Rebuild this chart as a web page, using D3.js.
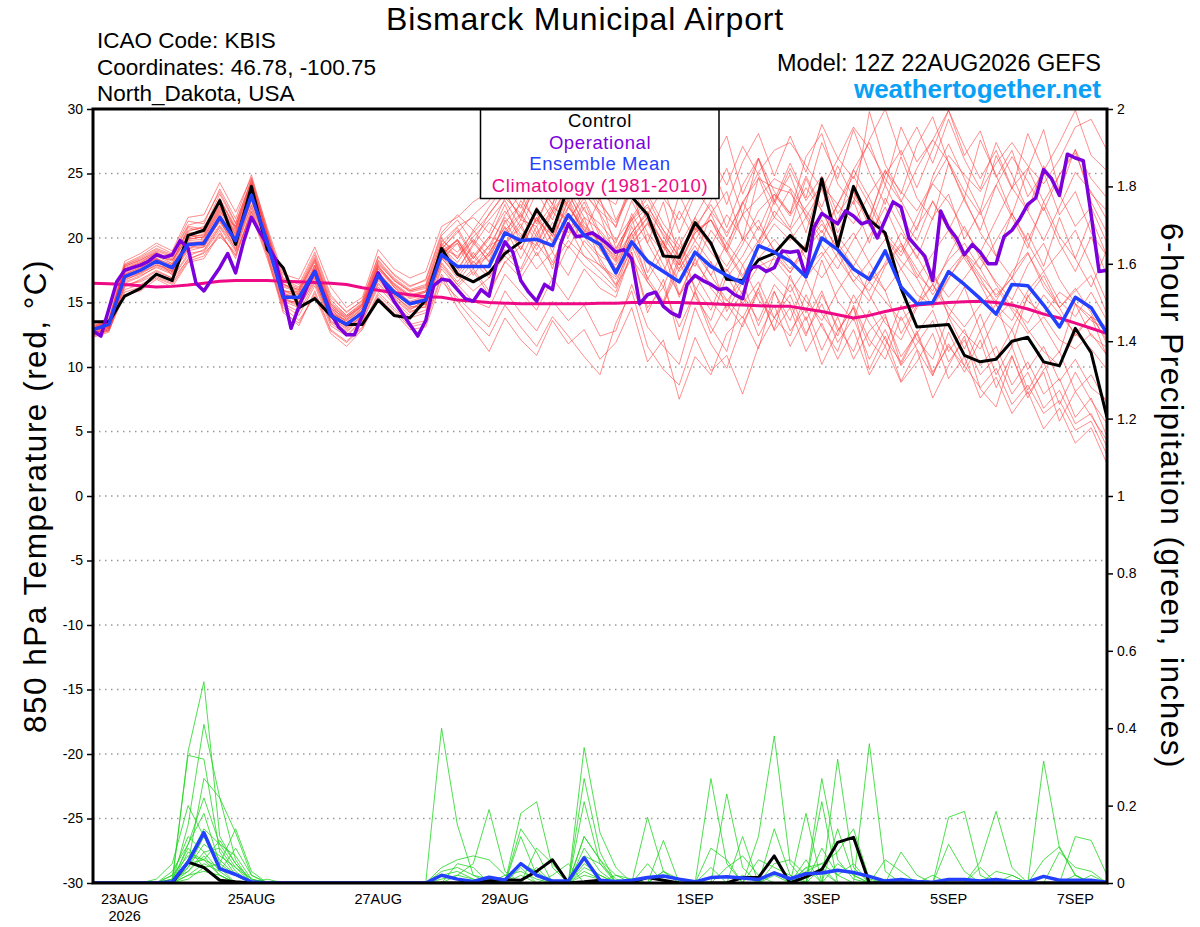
<!DOCTYPE html>
<html>
<head>
<meta charset="utf-8">
<script src="https://cdn.jsdelivr.net/npm/d3@7"></script>
<style>
body { margin: 0; background: #fff; }
svg { display: block; }
text { font-family: "Liberation Sans", Arial, Helvetica, sans-serif; }
</style>
</head>
<body>
<script>
// ---------------- data ----------------
var runTime = '2026-08-22T12:00:00Z';   // 6-hourly steps from here, 16 days
var tempTicks = [-30,-25,-20,-15,-10,-5,0,5,10,15,20,25,30];
var precipTicks = [0,0.2,0.4,0.6,0.8,1,1.2,1.4,1.6,1.8,2];
var dayTicks = ['2026-08-23','2026-08-25','2026-08-27','2026-08-29','2026-09-01','2026-09-03','2026-09-05','2026-09-07'];
var dayLabels = ['23AUG','25AUG','27AUG','29AUG','1SEP','3SEP','5SEP','7SEP'];

// control run, 850 hPa temperature (C), 6-hourly
var controlTemp = [
  13.5,13.5,15.5,16.1,17.2,16.7,20.2,20.6,22.9,19.5,24.0,19.1,17.7,
  14.6,15.3,14.0,13.3,13.3,15.2,14.0,13.8,15.2,19.2,17.2,16.6,17.3,
  18.8,19.7,22.2,20.5,24.0,25.3,24.5,23.8,23.2,21.8,18.6,18.5,21.2,
  19.6,16.8,16.7,18.3,18.8,20.2,19.0,24.6,19.3,24.0,21.4,20.4,16.1,
  13.1,13.2,13.3,10.9,10.4,10.6,12.0,12.3,10.4,10.1,13.0,11.1,6.1];

// operational run, 3-hourly
var operTemp = [
  12.8,12.4,14.5,16.6,17.5,17.7,17.9,18.2,18.7,18.5,
  18.7,19.8,19.2,16.5,15.9,16.8,17.7,18.8,17.3,19.7,
  21.6,20.5,19.5,18.4,15.7,13.0,14.7,16.2,17.4,15.8,
  14.2,13.1,12.5,12.5,14.0,15.8,17.3,16.2,15.1,14.2,
  13.3,12.4,13.6,16.3,16.8,16.7,16.0,15.3,15.1,16.0,
  15.5,18.2,19.7,18.9,16.7,15.8,15.1,16.4,16.0,19.5,
  21.1,20.1,20.2,20.4,20.0,19.5,18.9,19.1,18.4,14.9,
  15.6,15.8,14.7,14.2,13.9,16.4,17.1,16.7,16.4,16.0,
  16.1,15.6,15.3,17.7,17.8,17.4,17.7,19.0,18.9,19.0,
  17.0,20.8,21.9,21.5,21.1,22.1,21.7,21.1,21.3,20.0,
  21.4,22.8,22.4,20.0,19.3,18.6,16.7,22.1,20.8,20.0,
  18.7,19.5,18.9,18.0,18.0,20.1,20.6,21.5,22.6,23.1,
  25.3,24.6,23.3,26.5,26.2,26.0,21.8,17.4,17.5];

// ensemble mean
var meanTemp = [
  12.9,13.3,17.0,17.5,18.2,17.7,19.5,19.6,21.6,19.8,23.3,19.7,15.4,
  15.4,17.4,14.0,13.3,14.2,17.1,15.8,14.9,15.2,18.7,17.8,17.8,17.8,
  20.4,19.8,19.9,19.4,21.8,20.2,19.5,17.3,19.7,18.2,17.4,16.6,18.9,
  17.8,17.1,16.5,19.4,18.9,18.2,17.0,20.0,19.1,17.6,16.8,19.0,16.2,
  14.9,15.0,17.4,16.4,15.3,14.1,16.4,16.3,14.8,13.1,15.4,14.6,12.6];

// climatology 1981-2010
var climoTemp = [
  16.5,16.45,16.4,16.3,16.2,16.25,16.35,16.5,16.65,16.7,16.7,16.7,16.65,
  16.6,16.55,16.5,16.4,16.15,15.95,15.75,15.6,15.45,15.4,15.2,15.1,15.0,
  14.95,14.9,14.9,14.9,14.9,14.9,14.95,14.95,15.0,15.0,15.0,15.0,14.95,
  14.9,14.85,14.8,14.75,14.7,14.7,14.5,14.3,14.05,13.8,14.0,14.3,14.55,
  14.8,14.9,15.0,15.05,15.1,15.0,14.8,14.5,14.1,13.8,13.4,13.0,12.6];

// perturbation members
var memberTemp = [
 [12.6,13.0,17.8,18.3,18.9,18.0,20.8,20.5,23.1,20.6,24.2,
  20.1,15.8,14.9,17.9,14.6,13.1,14.5,17.8,16.2,15.0,14.8,
  19.5,17.6,19.4,21.2,20.1,22.9,21.3,23.9,22.6,20.4,23.1,
  19.2,21.4,23.1,20.6,18.4,20.9,22.6,20.1,22.8,24.6,23.9,
  23.5,21.8,19.9,22.6,25.3,23.1,20.4,18.9,21.6,24.2,22.8,
  20.6,18.9,21.4,23.9,22.1,19.8,22.4,25.1,23.6,21.4],
 [12.4,12.9,16.2,16.8,17.5,16.9,18.6,19.1,20.9,19.2,22.6,
  19.4,15.1,14.6,16.8,13.5,12.8,13.9,16.5,15.3,14.2,14.9,
  18.0,16.4,15.1,14.6,17.2,15.8,14.4,16.9,15.2,17.6,16.1,
  15.4,18.9,14.2,16.8,12.1,15.9,13.1,11.2,15.6,12.4,14.8,
  11.6,13.9,10.2,12.8,14.6,9.8,12.4,8.9,11.3,7.6,10.1,
  12.4,8.3,6.9,10.8,7.9,9.6,5.8,8.1,6.2,4.3],
 [13.1,13.6,17.4,17.9,18.5,17.4,19.9,20.1,22.3,20.4,23.8,
  19.9,16.2,15.8,18.3,14.9,13.7,14.8,17.6,16.4,15.5,15.9,
  19.1,20.6,18.4,19.9,22.6,19.6,22.4,20.1,23.4,21.2,19.6,
  18.6,20.4,22.1,20.3,18.6,20.8,18.9,17.4,19.5,22.1,23.4,
  21.7,23.9,22.1,19.6,17.8,20.1,22.4,19.6,17.2,15.9,18.6,
  20.9,18.4,16.6,15.2,17.9,19.6,16.8,14.9,13.6,12.9],
 [12.8,13.2,16.8,17.2,17.9,17.6,19.1,19.8,21.2,19.6,23.5,
  19.5,15.0,15.1,17.0,14.1,13.2,13.8,16.9,15.6,14.4,15.3,
  18.5,16.9,18.6,17.2,19.4,21.1,18.6,20.4,19.2,21.6,18.1,
  16.3,18.4,16.6,14.9,17.6,19.4,17.1,15.2,13.8,16.1,18.6,
  17.3,19.6,21.4,18.9,16.6,15.1,17.8,19.4,16.9,14.6,16.8,
  18.9,16.4,14.1,12.9,15.4,17.1,14.6,12.4,13.9,10.8],
 [12.9,13.4,17.2,17.7,18.4,17.1,20.2,20.0,22.0,20.9,24.5,
  20.3,16.5,15.6,17.6,14.3,13.5,14.1,17.3,15.9,14.7,14.6,
  19.8,18.9,20.4,21.8,23.6,21.4,24.4,22.6,25.4,23.9,22.9,
  20.8,24.1,21.3,19.2,23.4,20.6,22.9,25.4,21.8,26.2,23.6,
  21.9,26.3,28.1,24.2,22.6,29.8,25.7,23.4,27.2,29.4,25.8,
  23.1,27.6,24.9,21.8,25.3,28.4,23.6,26.9,22.8,20.4],
 [12.5,12.8,15.6,15.9,16.8,16.2,18.1,18.4,20.3,18.7,22.1,
  18.9,14.4,13.2,15.9,12.9,12.0,13.1,15.8,14.6,13.3,13.6,
  17.2,15.1,13.6,12.4,14.8,13.1,11.6,13.9,12.4,10.8,9.4,
  13.4,15.9,11.6,9.8,8.6,12.3,9.7,10.9,7.9,11.6,13.8,
  12.4,15.6,13.1,11.2,14.8,12.1,10.6,13.9,11.4,9.3,12.7,
  10.1,12.8,9.4,11.6,8.2,10.4,7.1,9.6,7.4,5.6],
 [13.0,13.5,18.0,18.6,19.4,18.8,21.3,21.1,23.8,21.5,24.9,
  20.6,16.9,16.4,18.9,15.6,14.2,15.2,18.6,17.1,16.2,16.8,
  20.4,21.8,20.6,22.4,24.1,22.3,25.2,23.8,25.9,24.1,22.6,
  21.2,23.6,25.3,23.1,21.4,23.8,22.1,20.4,22.6,25.1,26.8,
  27.4,25.6,23.8,26.1,28.6,26.9,24.6,22.8,25.4,27.6,25.9,
  23.6,21.8,24.1,26.3,24.4,22.1,24.9,26.8,24.6,23.1],
 [12.7,13.1,16.5,17.0,17.8,17.3,19.0,19.3,21.4,19.1,23.0,
  19.2,15.3,14.7,16.6,13.8,12.9,14.0,16.8,15.5,14.6,15.0,
  18.3,19.6,17.1,18.9,20.8,18.4,20.9,17.6,21.9,19.4,17.8,
  16.8,19.1,20.3,17.9,15.6,17.2,15.1,13.6,15.9,17.8,18.4,
  16.8,15.1,13.6,15.9,17.8,15.6,13.4,12.1,14.6,16.4,14.1,
  12.6,11.4,13.8,15.1,12.9,11.2,10.1,12.6,11.4,9.8],
 [13.2,13.7,17.6,18.1,18.7,18.2,20.5,20.9,22.8,20.2,24.0,
  20.0,16.0,15.3,17.8,14.8,13.4,14.6,18.0,16.7,15.8,16.1,
  19.2,20.4,21.8,22.9,24.8,23.1,25.9,24.2,26.8,23.6,24.9,
  21.4,23.8,19.6,17.4,20.1,15.9,18.2,14.3,16.6,13.2,15.9,
  12.8,14.6,11.3,13.9,10.6,12.8,14.1,10.2,12.6,9.4,11.8,
  9.6,12.1,8.4,10.9,7.6,9.8,11.2,8.1,9.4,7.2],
 [12.6,13.0,16.9,17.4,18.1,17.8,19.6,19.4,21.8,19.9,23.4,
  19.8,15.6,15.3,17.2,14.2,13.6,14.4,17.4,16.0,15.1,15.5,
  18.9,17.4,19.6,18.2,21.4,19.1,21.6,19.8,22.9,20.1,18.6,
  17.9,19.9,21.6,19.6,17.9,20.6,21.4,19.1,17.1,19.2,21.1,
  19.8,21.6,19.4,17.6,19.9,21.8,20.1,18.2,16.9,18.8,20.6,
  18.4,16.6,15.1,17.4,18.9,16.2,14.6,16.1,14.2,11.8],
 [13.0,13.3,17.1,17.6,18.3,17.5,19.4,19.7,21.5,19.7,23.2,
  19.6,15.2,15.5,17.5,13.9,13.1,14.3,17.0,15.7,15.0,15.4,
  18.6,19.9,18.4,20.1,19.6,21.4,20.9,22.6,21.1,23.6,21.8,
  18.4,21.6,17.3,19.8,15.6,18.4,21.9,23.6,19.8,24.7,21.6,
  23.8,20.4,24.6,21.2,25.3,27.4,24.1,28.6,25.9,27.6,29.9,
  26.4,28.3,24.7,26.8,23.2,25.1,21.8,23.6,20.4,18.6],
 [12.3,12.7,16.4,16.6,17.2,16.8,18.3,18.9,20.6,18.4,22.3,
  18.7,14.8,14.0,16.3,13.2,12.4,13.5,16.2,14.9,13.8,14.2,
  17.6,16.2,17.4,15.6,18.2,16.9,18.9,16.8,19.4,17.9,16.9,
  15.8,18.9,14.6,16.2,13.1,15.8,12.6,14.9,13.1,16.1,12.8,
  14.6,11.2,13.4,10.6,12.9,9.4,11.6,8.8,10.4,12.6,9.1,
  10.8,7.6,9.2,6.4,8.1,5.2,6.8,4.1,5.3,2.5],
 [13.3,13.8,18.2,18.8,19.6,19.0,21.6,21.8,24.3,22.0,24.7,
  20.8,17.2,16.8,19.3,16.2,14.6,15.4,19.1,17.6,16.9,17.4,
  20.9,21.6,22.8,23.6,25.4,23.9,26.1,24.6,27.1,25.2,27.4,
  25.1,28.4,24.6,26.9,23.8,29.7,25.6,27.9,23.4,26.1,22.8,
  24.9,21.6,23.8,20.4,22.9,19.6,23.1,20.8,18.4,21.6,23.4,
  19.9,22.1,18.6,16.9,20.4,17.8,21.6,18.4,16.2,19.1],
 [12.8,13.4,17.5,18.0,18.6,18.3,20.0,20.3,22.5,20.1,23.9,
  19.9,15.9,15.7,17.7,14.5,13.8,14.9,17.9,16.3,15.4,15.8,
  19.4,20.8,18.6,20.1,22.1,20.3,19.4,21.9,23.6,20.9,19.8,
  17.6,19.4,21.2,19.4,17.4,18.9,17.1,19.6,21.8,23.1,24.6,
  23.9,22.1,20.4,22.6,24.8,22.6,20.1,18.6,20.9,22.8,20.6,
  18.9,17.6,19.8,21.9,19.6,17.4,18.9,20.6,17.9,15.0],
 [12.5,12.9,16.0,16.4,17.0,16.5,18.4,18.8,20.1,18.9,21.8,
  18.4,14.6,13.6,15.5,12.6,11.6,12.9,15.4,14.2,12.9,13.1,
  16.6,15.4,14.2,13.1,15.9,14.2,12.8,15.1,13.6,14.8,12.4,
  12.8,16.4,13.1,11.6,10.2,14.6,11.8,9.9,13.4,15.8,12.9,
  17.1,14.2,18.3,15.1,13.6,17.4,15.9,12.6,14.8,17.6,13.9,
  16.2,12.8,14.9,11.6,15.6,13.2,11.1,14.9,12.4,11.5],
 [13.0,13.5,17.9,18.4,19.1,18.6,20.9,20.7,23.4,21.1,24.6,
  20.4,16.6,16.1,18.5,15.2,14.0,15.0,18.3,16.9,16.0,16.4,
  20.0,18.4,20.6,19.1,21.8,23.4,21.1,23.9,22.4,24.6,21.9,
  19.8,21.6,23.4,21.1,19.4,21.6,19.4,17.8,19.9,21.4,18.9,
  17.3,19.1,20.6,18.4,16.6,18.2,19.9,17.6,15.6,14.8,16.9,
  18.6,16.9,14.8,13.6,15.9,17.4,15.1,13.9,15.8,13.6],
 [12.9,13.3,17.3,17.8,18.4,17.9,19.8,19.9,22.1,20.0,23.6,
  19.6,15.7,15.4,17.3,14.0,13.3,14.3,17.2,15.9,14.9,15.2,
  18.8,19.9,17.6,19.4,20.1,21.8,19.6,22.1,20.4,22.8,20.1,
  18.3,21.9,19.6,22.8,18.4,21.6,23.9,20.8,24.1,26.2,22.9,
  25.8,23.1,27.4,24.6,28.4,25.1,22.6,26.3,23.1,21.4,25.8,
  22.9,20.6,24.1,21.6,19.2,22.8,20.1,18.4,21.6,18.6],
 [12.6,13.0,16.6,17.1,17.7,17.2,19.2,19.3,21.0,19.4,22.9,
  19.3,15.4,14.8,16.9,13.6,12.7,13.8,16.7,15.4,14.3,14.7,
  18.1,16.6,18.2,16.9,19.1,17.6,20.4,18.1,20.9,18.6,17.4,
  16.1,19.4,16.6,14.9,18.2,15.4,13.6,17.1,14.9,16.6,13.8,
  15.6,12.6,14.9,11.9,13.8,10.6,12.9,10.1,11.8,13.6,10.4,
  12.1,9.4,10.8,7.9,9.6,6.8,8.2,5.6,6.4,3.8],
 [13.1,13.5,17.7,18.2,18.8,18.4,20.4,20.4,22.6,20.7,24.1,
  20.2,16.3,15.9,18.1,14.7,13.9,14.7,17.7,16.5,15.6,15.9,
  19.3,18.1,19.9,18.6,21.2,22.6,20.4,22.1,23.8,21.6,20.6,
  19.1,21.4,22.6,20.1,18.2,20.4,21.4,18.9,16.9,19.4,22.1,
  20.6,18.4,16.9,18.8,20.4,18.1,15.9,17.6,19.4,17.1,15.4,
  16.9,18.6,16.4,14.6,13.4,15.6,14.1,12.6,13.9,12.1],
 [12.7,13.2,17.0,17.6,18.2,17.6,19.7,19.6,21.7,19.9,23.1,
  19.7,15.5,15.2,17.4,14.1,13.3,14.1,17.1,15.8,14.8,15.1,
  18.7,19.8,17.9,18.8,20.9,19.1,21.6,18.9,22.4,20.6,19.1,
  17.4,20.9,18.1,16.2,19.4,17.8,20.6,18.9,21.8,19.6,22.9,
  20.8,24.6,22.1,19.8,23.6,21.4,25.3,22.9,20.6,24.8,27.3,
  24.6,22.1,26.4,23.8,28.1,25.2,27.4,29.9,26.4,25.2],
 [12.4,12.8,15.8,16.2,16.9,16.4,18.2,18.6,20.4,18.6,22.0,
  18.6,14.2,13.4,15.7,12.8,11.9,13.0,15.6,14.4,13.1,13.4,
  17.0,14.6,12.9,11.2,13.8,12.1,10.9,13.6,11.8,12.9,10.6,
  11.9,14.6,10.4,12.1,7.5,10.8,9.4,12.6,13.9,11.4,15.8,
  13.6,16.8,14.1,12.4,15.6,13.4,11.6,14.8,12.1,10.6,13.9,
  11.4,14.1,10.6,12.9,9.8,11.6,8.9,10.6,8.4,7.4],
 [13.2,13.6,17.9,18.5,19.2,18.7,21.0,21.3,23.6,21.2,24.4,
  20.5,16.8,16.2,18.7,15.4,14.3,15.1,18.5,17.2,16.3,16.7,
  20.2,21.4,19.6,21.9,23.4,21.6,24.2,22.1,25.6,23.4,22.1,
  20.9,24.6,21.8,23.9,20.4,23.4,25.8,22.6,25.9,28.1,24.8,
  27.9,25.1,28.8,26.2,24.6,27.6,30.0,26.4,28.6,25.8,29.2,
  26.1,23.8,27.4,24.9,22.1,25.6,23.4,20.9,22.4,19.6],
 [12.8,13.1,16.7,17.3,17.9,17.4,19.3,19.4,21.3,19.5,23.1,
  19.4,15.2,15.0,17.1,13.8,13.0,14.0,16.9,15.6,14.5,14.9,
  18.4,17.1,15.9,16.9,18.6,17.4,19.6,17.9,19.8,18.6,17.9,
  17.0,20.4,16.8,18.9,15.4,18.4,16.1,14.6,17.9,15.2,13.8,
  16.4,13.6,15.9,12.8,14.6,11.6,13.9,10.8,12.6,14.4,11.2,
  12.9,10.1,11.6,8.6,10.4,7.9,9.1,6.1,7.6,4.6],
 [13.0,13.4,17.2,17.7,18.4,17.9,19.9,20.1,22.2,20.3,23.7,
  20.0,15.8,15.6,17.6,14.4,13.6,14.6,17.6,16.2,15.3,15.6,
  19.0,19.8,18.1,19.4,21.6,20.1,21.9,19.6,23.1,20.6,19.9,
  18.2,20.4,21.9,19.6,17.6,19.8,18.1,16.9,18.6,20.9,19.1,
  17.6,19.4,21.1,19.2,17.1,15.9,18.1,20.4,18.6,16.4,18.3,
  19.6,17.6,15.4,16.9,18.8,16.6,14.6,15.9,17.1,14.1],
 [12.9,13.3,17.6,18.1,18.9,18.3,20.1,20.6,22.9,20.8,24.3,
  20.3,16.4,16.0,18.2,14.9,13.9,14.8,18.1,16.7,15.9,16.2,
  19.6,18.4,20.1,21.4,22.9,20.8,23.6,21.4,24.6,22.1,21.1,
  19.6,22.9,20.4,18.9,22.1,19.8,21.9,19.1,22.8,20.6,23.4,
  21.9,24.8,22.4,25.6,23.1,21.6,24.9,26.8,23.9,26.9,29.9,
  27.1,24.6,26.8,23.9,25.4,22.8,24.9,26.6,23.4,22.1],
 [12.6,13.1,16.9,17.3,18.0,17.4,19.5,19.5,21.6,19.6,23.2,
  19.6,15.3,15.3,17.2,13.9,13.2,14.2,16.9,15.7,14.8,15.1,
  18.6,17.2,18.9,17.1,19.6,20.8,19.1,21.2,20.1,22.4,19.2,
  17.6,19.6,21.1,18.9,16.6,18.1,16.4,15.1,16.8,18.4,17.1,
  15.8,17.6,18.9,16.8,14.9,16.6,15.1,13.6,14.9,16.4,14.6,
  13.1,14.8,16.1,14.4,12.6,13.9,12.1,11.4,12.6,10.9],
 [13.1,13.6,17.8,18.3,19.0,18.5,20.6,20.8,23.0,20.9,24.2,
  20.2,16.4,16.0,18.4,15.0,14.0,14.9,18.2,16.8,15.9,16.3,
  19.7,20.9,21.6,20.4,23.1,21.9,24.4,22.6,26.1,24.9,23.4,
  22.6,26.1,24.2,27.9,25.1,28.4,26.3,24.1,27.1,24.9,22.6,
  25.4,22.9,24.8,21.9,23.6,20.9,24.1,21.6,19.8,22.9,20.6,
  23.1,20.4,18.6,21.9,19.8,22.4,19.6,17.4,20.1,17.1],
 [12.5,12.9,16.3,16.7,17.4,16.9,18.8,19.0,20.8,19.0,22.5,
  19.0,14.9,14.3,16.5,13.4,12.5,13.6,16.4,15.1,14.0,14.4,
  17.8,16.4,17.6,15.9,18.1,19.4,17.6,18.9,17.1,19.8,18.4,
  16.4,19.8,16.9,15.1,18.6,16.2,14.4,17.6,15.6,13.6,16.4,
  14.9,12.4,15.6,13.1,11.2,14.4,12.1,10.4,12.8,9.6,11.6,
  10.1,8.4,9.9,7.1,8.6,6.4,7.4,5.1,5.8,3.2],
 [13.0,13.5,17.4,17.9,18.6,18.0,20.2,20.2,22.4,20.5,23.9,
  19.9,15.9,15.8,17.9,14.6,13.7,14.7,17.8,16.4,15.5,15.8,
  19.2,18.6,19.8,18.1,20.6,21.9,20.1,22.4,21.4,23.1,20.4,
  18.9,21.1,22.4,20.6,19.1,20.9,19.4,21.8,20.1,18.4,19.9,
  18.4,16.9,18.6,20.2,18.4,16.6,17.9,19.6,17.6,15.6,17.4,
  18.9,17.1,15.6,16.9,15.1,14.1,15.8,14.9,13.9,13.1],
 [12.8,13.2,17.1,17.5,18.3,17.7,19.6,19.8,21.9,19.8,23.4,
  19.8,15.6,15.4,17.5,14.2,13.4,14.3,17.3,16.0,15.0,15.3,
  18.8,19.6,17.8,18.6,20.4,19.6,21.4,20.2,22.4,20.8,19.6,
  18.1,20.1,21.6,19.6,17.9,20.4,21.4,19.6,17.9,19.8,21.6,
  20.6,22.4,24.1,22.6,21.1,23.4,25.2,23.6,22.1,24.3,26.4,
  24.9,23.6,25.8,27.4,25.6,24.2,26.1,28.6,29.2,26.8]
];

// 6-hour precipitation (inches)
var controlPrecip = [
  0,0,0,0,0,0,.054,.04,.007,.003,0,0,0,
  0,0,0,0,0,0,0,0,0,0,0,.004,.006,
  .008,.007,.03,.06,0,.003,.007,0,.002,.014,.007,0,0,
  0,0,.014,.014,.07,0,.016,.035,.105,.118,0,0,0,
  0,0,0,0,0,0,0,0,0,0,0,0,0];

var meanPrecip = [
  0,0,0,0,0,.003,.054,.13,.037,.022,.003,0,0,
  0,0,0,0,0,0,0,0,0,.02,.01,.004,.015,
  .008,.05,.02,.005,.005,.065,.007,.004,.007,.014,.018,.01,.003,
  .014,.016,.013,.009,.026,.011,.024,.026,.033,.027,.017,.005,.009,
  .004,.002,.009,.009,.005,.009,.003,.003,.017,.007,.007,.007,.002];

var memberPrecip = [
 [0,0,0,0,0,0,.34,.52,.12,.05,.01,0,0,
  0,0,0,0,0,0,0,0,0,.40,.15,.02,0,
  0,0,0,0,0,0,0,0,0,0,0,0,0,
  .27,.05,0,0,0,0,0,0,0,0,0,0,0,
  0,0,0,0,0,0,0,0,0,0,0,0,0],
 [0,0,0,0,0,.01,.33,.32,.08,.02,0,0,0,
  0,0,0,0,0,0,0,0,0,.04,.06,.07,.06,
  .02,0,0,0,0,0,0,0,0,.17,.03,0,0,
  0,.23,.04,0,0,0,0,0,0,0,0,0,0,
  0,0,.17,.185,.02,0,0,0,0,0,0,0,0],
 [0,0,0,0,0,0,.15,.41,.22,.06,0,0,0,
  0,0,0,0,0,0,0,0,0,0,.02,.05,.19,
  .03,0,0,0,0,.35,.13,.04,0,0,0,0,0,
  0,0,0,.12,.38,.05,0,0,0,0,0,0,0,
  0,0,0,0,0,0,0,0,0,0,0,0,0],
 [0,0,0,0,0,0,.05,.27,.22,.13,.02,0,0,
  0,0,0,0,0,0,0,0,0,0,0,0,0,
  0,.18,.21,.04,0,.27,.08,0,0,0,0,0,0,
  0,0,0,0,0,0,0,.27,.06,.01,0,0,0,
  0,0,0,0,0,0,0,0,.315,.09,.02,0,0],
 [0,0,0,0,0,.03,.10,.18,.05,.14,.03,0,0,
  0,0,0,0,0,0,0,0,0,0,0,0,0,
  0,.14,.08,0,0,.21,.05,0,0,0,0,0,0,
  0,0,0,0,0,0,0,0,.32,.04,0,0,0,
  0,0,0,0,.055,.185,.04,0,0,0,0,0,0],
 [0,0,0,0,0,0,.06,.14,.10,.07,.01,0,0,
  0,0,0,0,0,0,0,0,0,.02,.03,.01,0,
  0,.12,.02,0,0,.12,.06,.02,0,0,.11,0,0,
  0,0,0,0,0,0,0,0,0,0,.36,.03,0,
  0,0,0,0,0,0,0,0,0,0,.12,.11,.02],
 [0,0,0,0,0,0,.04,.10,.07,.04,0,0,0,
  0,0,0,0,0,0,0,0,0,0,0,0,0,
  0,0,.09,.05,0,0,0,0,0,0,0,0,0,
  .04,0,.12,0,0,0,.18,0,0,0,0,0,.08,
  .02,0,0,0,0,0,0,0,0,0,0,0,0],
 [0,0,0,0,0,0,.08,.06,.04,0,0,0,0,
  0,0,0,0,0,0,0,0,0,0,0,0,0,
  0,0,0,0,0,.12,.06,0,0,0,0,0,0,
  0,0,0,0,.14,.02,0,.21,0,0,0,0,0,
  0,0,0,0,0,0,0,0,.06,.094,.02,0,0],
 [0,0,0,0,0,.02,.12,.08,.03,.09,.02,0,0,
  0,0,0,0,0,0,0,0,0,0,0,0,0,
  0,0,0,.02,.05,0,0,0,0,0,0,0,0,
  0,0,0,0,0,0,0,0,0,0,0,0,0,
  0,0,.10,.03,0,0,0,0,0,.08,.04,.03,0],
 [0,0,0,0,0,0,.02,.05,.03,0,0,.01,0,
  0,0,0,0,0,0,0,0,0,.03,.04,.02,.01,
  0,.04,0,0,0,.04,.02,0,0,0,0,0,0,
  .09,.06,0,0,0,0,0,0,.14,.02,0,0,0,
  0,0,0,0,0,0,0,0,0,0,0,0,0],
 [0,0,0,0,.01,.05,.20,.12,.04,.02,0,0,0,
  0,0,0,0,0,0,0,0,0,0,0,0,0,
  .01,.05,.03,0,0,.05,.02,0,0,0,0,0,0,
  0,0,0,0,0,0,.06,0,0,0,0,0,0,
  0,0,0,0,0,0,0,0,0,0,0,0,0],
 [0,0,0,0,0,0,.10,.22,.10,.04,.01,0,0,
  0,0,0,0,0,0,0,0,0,0,0,0,0,
  0,0,0,0,0,.09,.03,0,0,0,.03,0,0,
  0,0,0,0,0,0,.04,.05,.08,.14,.01,0,0,
  0,0,0,0,0,0,0,0,0,0,0,0,0],
 [0,0,0,0,0,.01,.03,.08,.09,.03,0,0,0,
  0,0,0,0,0,0,0,0,0,0,.05,.04,0,
  0,.02,0,0,0,0,0,0,0,0,0,0,0,
  0,0,0,0,.05,.06,.02,.03,0,0,0,0,0,
  0,0,0,0,.04,0,0,0,0,0,0,.02,0],
 [0,0,0,0,0,0,.04,.12,.06,.02,0,0,0,
  0,0,0,0,0,0,0,0,0,0,0,0,0,
  0,0,0,0,0,.07,.05,.01,0,.05,0,0,0,
  0,0,0,0,0,0,0,.09,.02,.05,0,0,0,
  0,0,0,0,0,0,.02,0,0,0,0,0,0],
 [0,0,0,0,0,.02,.07,.06,.02,0,0,0,0,
  0,0,0,0,0,0,0,0,0,0,0,0,0,
  0,0,0,0,0,0,0,0,0,0,.03,.01,0,
  0,.04,.07,.02,0,0,.03,.05,.02,0,0,.01,0,
  0,0,0,0,0,0,0,0,0,0,0,0,0],
 [0,0,0,0,0,0,.05,.06,.11,.05,0,0,0,
  0,0,0,0,0,0,0,0,0,0,0,0,0,
  0,0,0,0,0,.03,.01,0,0,0,0,0,0,
  0,0,0,0,0,0,0,0,0,0,0,.06,.03,
  0,.02,0,0,0,0,0,0,0,0,0,0,0],
 [0,0,0,0,0,0,.02,.03,.02,0,0,0,0,
  0,0,0,0,0,0,0,0,0,0,0,0,0,
  .02,.03,.01,0,0,0,0,0,0,0,0,0,0,
  0,0,0,.06,.04,.02,0,0,0,0,0,0,0,
  0,0,0,0,0,.03,.02,0,0,0,0,0,0],
 [0,0,0,0,0,.01,.09,.04,.01,0,0,0,0,
  0,0,0,0,0,0,0,0,0,.01,.02,.01,0,
  0,0,0,0,0,.02,.01,0,0,0,0,0,0,
  0,0,.02,0,.03,0,.04,0,.05,.02,0,0,0,
  0,0,0,0,0,0,0,0,0,0,0,0,0],
 [0,0,0,0,0,0,.03,.07,.02,0,0,0,0,
  0,0,0,0,0,0,0,0,0,0,0,0,0,
  0,0,.04,0,0,0,0,0,0,0,0,0,0,
  0,0,0,0,0,0,0,0,0,0,0,0,0,
  0,0,0,0,0,0,0,0,0,0,.02,0,0],
 [0,0,0,0,0,0,.01,.04,.05,.02,0,0,0,
  0,0,0,0,0,0,0,0,0,0,0,0,0,
  0,0,0,0,0,0,0,.02,.01,0,0,0,0,
  0,0,0,0,.02,0,0,.04,0,0,0,0,0,
  0,0,0,0,0,0,0,0,0,0,0,0,0]
];

// ---------------- drawing ----------------
var W = 1200, H = 927;
var box = {left: 93, right: 1107, top: 109, bottom: 883};

var t0 = new Date(runTime);
var hrs = function(h){ return d3.utcHour.offset(t0, h); };

var x = d3.scaleUtc().domain([t0, hrs(384)]).range([box.left, box.right]);
var yT = d3.scaleLinear().domain([-30, 30]).range([box.bottom, box.top]);
var yP = d3.scaleLinear().domain([0, 2]).range([box.bottom, box.top]);

var svg = d3.select('body').append('svg').attr('width', W).attr('height', H);

svg.append('clipPath').attr('id', 'plotclip').append('rect')
    .attr('x', box.left).attr('y', box.top)
    .attr('width', box.right - box.left).attr('height', box.bottom - box.top);

// dotted grid at the temperature ticks
svg.append('g').selectAll('line')
    .data(tempTicks.filter(function(d){ return d > -30 && d < 30; }))
    .enter().append('line')
    .attr('x1', box.left).attr('x2', box.right)
    .attr('y1', function(d){ return yT(d); }).attr('y2', function(d){ return yT(d); })
    .attr('stroke', '#9a9a9a').attr('stroke-width', 1.3).attr('stroke-dasharray', '1.5,4.5');

var lineEvery = function(step, scale){
    return d3.line()
        .x(function(d, i){ return x(hrs(step * i)); })
        .y(function(d){ return scale(d); });
};

var plot = svg.append('g').attr('clip-path', 'url(#plotclip)');

plot.append('g').selectAll('path').data(memberTemp).enter().append('path')
    .attr('d', lineEvery(6, yT)).attr('fill', 'none')
    .attr('stroke', '#ff3b3b').attr('stroke-opacity', 0.72).attr('stroke-width', 0.8);

plot.append('g').selectAll('path').data(memberPrecip).enter().append('path')
    .attr('d', lineEvery(6, yP)).attr('fill', 'none')
    .attr('stroke', '#22d622').attr('stroke-width', 0.8);

var mainLines = [
    {data: climoTemp,     step: 6, scale: yT, color: '#ee0a85', w: 3},
    {data: controlTemp,   step: 6, scale: yT, color: '#000000', w: 3},
    {data: operTemp,      step: 3, scale: yT, color: '#7b00dc', w: 3.5},
    {data: meanTemp,      step: 6, scale: yT, color: '#2440ff', w: 3.5},
    {data: controlPrecip, step: 6, scale: yP, color: '#000000', w: 3},
    {data: meanPrecip,    step: 6, scale: yP, color: '#2440ff', w: 3.5}
];
mainLines.forEach(function(s){
    plot.append('path').datum(s.data)
        .attr('d', lineEvery(s.step, s.scale)).attr('fill', 'none')
        .attr('stroke', s.color).attr('stroke-width', s.w)
        .attr('stroke-linejoin', 'round');
});

// legend
var legendItems = [
    {label: 'Control', color: '#000000'},
    {label: 'Operational', color: '#7b00dc'},
    {label: 'Ensemble Mean', color: '#2440ff'},
    {label: 'Climatology (1981-2010)', color: '#ee0a85'}
];
svg.append('rect').attr('x', 480.5).attr('y', 109).attr('width', 238.5).attr('height', 89.5)
    .attr('fill', '#fff').attr('stroke', '#000').attr('stroke-width', 1.5);
svg.append('g').selectAll('text').data(legendItems).enter().append('text')
    .attr('x', 600).attr('y', function(d, i){ return 127 + i * 21.5; })
    .attr('text-anchor', 'middle').attr('font-size', 18.5).attr('letter-spacing', 0.6)
    .attr('fill', function(d){ return d.color; })
    .text(function(d){ return d.label; });

// frame
svg.append('rect').attr('x', box.left).attr('y', box.top)
    .attr('width', box.right - box.left).attr('height', box.bottom - box.top)
    .attr('fill', 'none').attr('stroke', '#000').attr('stroke-width', 3);

// axes
var styleAxis = function(g){
    g.select('.domain').remove();
    g.selectAll('.tick line').attr('stroke', '#000').attr('stroke-width', 1.5);
    g.selectAll('.tick text').attr('font-size', 14).attr('fill', '#000')
        .attr('font-family', '"Liberation Sans", Arial, sans-serif');
};
svg.append('g').attr('transform', 'translate(' + box.left + ',0)')
    .call(d3.axisLeft(yT).tickValues(tempTicks).tickSize(6).tickPadding(4)
        .tickFormat(function(d){ return String(d); }))
    .call(styleAxis);
svg.append('g').attr('transform', 'translate(' + box.right + ',0)')
    .call(d3.axisRight(yP).tickValues(precipTicks).tickSize(6).tickPadding(4)
        .tickFormat(function(d){ return String(d); }))
    .call(styleAxis);

var dayDates = dayTicks.map(function(d){ return new Date(d + 'T00:00:00Z'); });
svg.append('g').selectAll('text').data(dayDates).enter().append('text')
    .attr('x', function(d){ return x(d); }).attr('y', 904)
    .attr('text-anchor', 'middle').attr('font-size', 14.5)
    .text(function(d, i){ return dayLabels[i]; });
svg.append('text').attr('x', x(dayDates[0])).attr('y', 921)
    .attr('text-anchor', 'middle').attr('font-size', 14.5)
    .text(d3.utcFormat('%Y')(dayDates[0]));

// axis titles
svg.append('text').attr('transform', 'translate(46,496) rotate(-90)')
    .attr('text-anchor', 'middle').attr('font-size', 31.5).attr('letter-spacing', 1.5)
    .text('850 hPa Temperature (red, \u00B0C)');
svg.append('text').attr('transform', 'translate(1161,496) rotate(90)')
    .attr('text-anchor', 'middle').attr('font-size', 31.5).attr('letter-spacing', 1.5)
    .text('6-hour Precipitation (green, inches)');

// header
svg.append('text').attr('x', 585).attr('y', 30).attr('text-anchor', 'middle')
    .attr('font-size', 32).attr('letter-spacing', 0.8).text('Bismarck Municipal Airport');
var info = ['ICAO Code: KBIS', 'Coordinates: 46.78, -100.75', 'North_Dakota, USA'];
svg.append('g').selectAll('text').data(info).enter().append('text')
    .attr('x', 97).attr('y', function(d, i){ return 48 + i * 26.5; })
    .attr('font-size', 22.5).text(function(d){ return d; });
svg.append('text').attr('x', 1101).attr('y', 71).attr('text-anchor', 'end')
    .attr('font-size', 23.5).text('Model: 12Z 22AUG2026 GEFS');
svg.append('text').attr('x', 1101).attr('y', 98).attr('text-anchor', 'end')
    .attr('font-size', 26).attr('font-weight', 'bold').attr('fill', '#0aa0f5')
    .text('weathertogether.net');
</script>
</body>
</html>
